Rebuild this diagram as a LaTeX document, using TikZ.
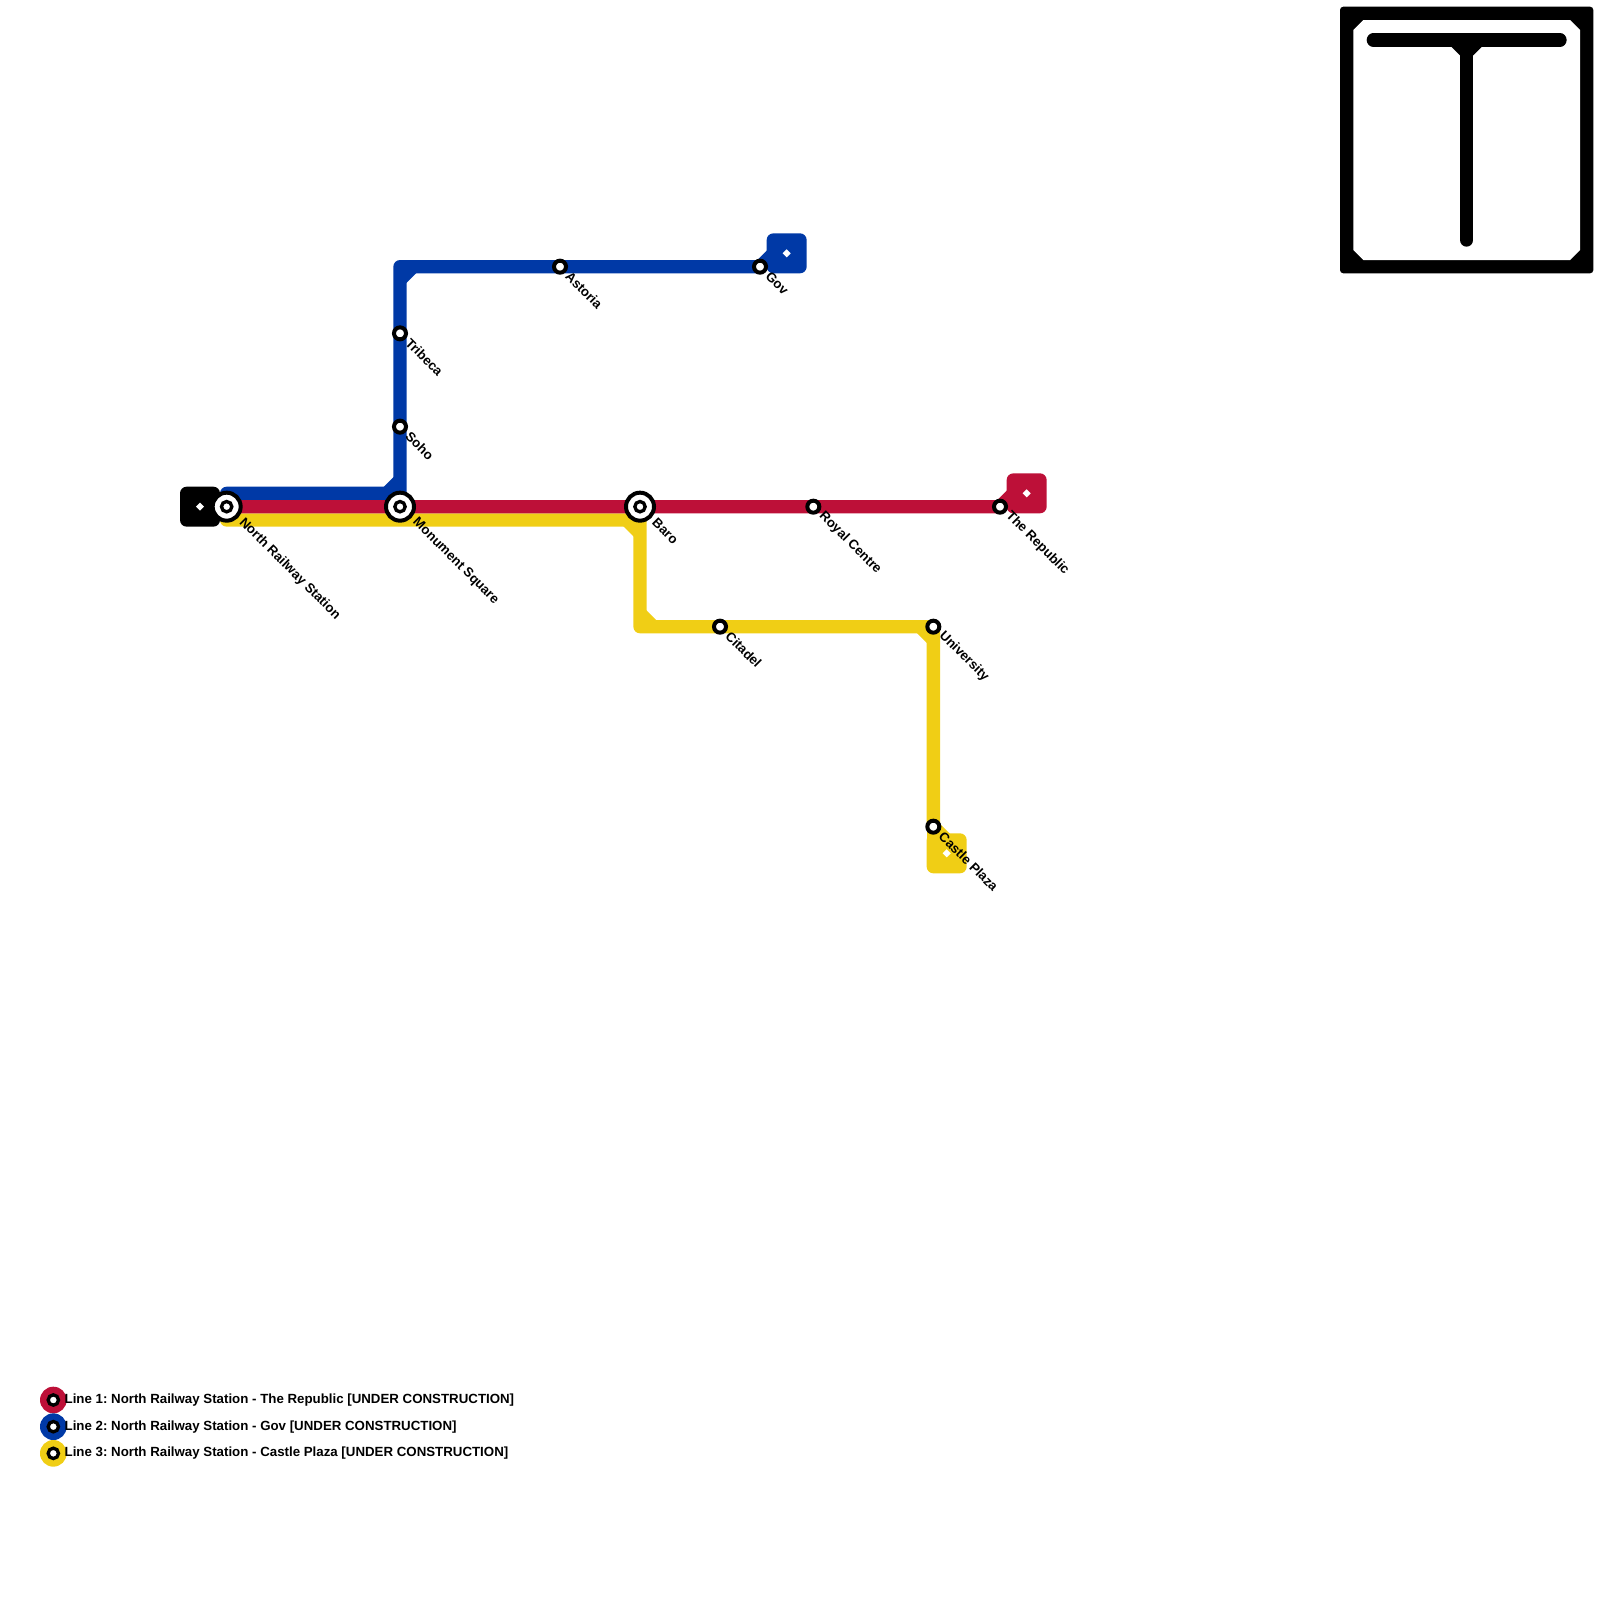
\documentclass[tikz,border=0pt]{standalone}
\usepackage{fontspec}
\setmainfont{Liberation Sans}
\usetikzlibrary{shapes.geometric,backgrounds}
\definecolor{lred}{HTML}{BD1038}
\definecolor{lblue}{HTML}{0039A6}
\definecolor{lyellow}{HTML}{F0CE15}
\tikzset{
  x=.4cm,y=-.4cm,
  route/.style={line width=.4cm,line cap=round,line join=round},
  chamfer/.style={line width=.4cm,line cap=butt},
  termbox/.style={rectangle,rounded corners=.2cm,minimum size=1.2cm,inner sep=0,outer sep=0},
  gem/.style={diamond,fill=white,minimum size=.25cm,inner sep=0},
  smallst/.style={circle,fill=white,draw=black,line width=.12cm,minimum size=.36cm,inner sep=0,outer sep=0},
  bigst/.style={circle,fill=white,draw=black,line width=.12cm,minimum size=.84cm,inner sep=0,outer sep=0,
    path picture={\draw[black,line width=.1cm] (path picture bounding box.center) circle (.155cm);}},
  legdot/.style={circle,minimum size=.8cm,inner sep=0,outer sep=0,
    path picture={\draw[black,fill=white,line width=.1cm] (path picture bounding box.center) circle (.155cm);}},
  lab/.style={rotate=-45,anchor=west,inner sep=0,outer sep=0,font=\frenchspacing\bfseries\fontsize{11.3pt}{13pt}\selectfont},
  legtext/.style={anchor=base west,inner sep=0,outer sep=0,font=\frenchspacing\bfseries\fontsize{11.34pt}{13pt}\selectfont},
}
\begin{document}
\begin{tikzpicture}
\useasboundingbox (0,0) rectangle (120,120);
% stations
\node[bigst] (nrs) at (17,38) {};
\node[bigst] (mon) at (30,38) {};
\node[bigst] (bar) at (48,38) {};
\node[smallst] (roy) at (61,38) {};
\node[smallst] (rep) at (75,38) {};
\node[smallst] (tri) at (30,25) {};
\node[smallst] (soh) at (30,32) {};
\node[smallst] (ast) at (42,20) {};
\node[smallst] (gov) at (57,20) {};
\node[smallst] (cit) at (54,47) {};
\node[smallst] (uni) at (70,47) {};
\node[smallst] (cas) at (70,62) {};
% waypoints
\coordinate (b0) at (17,37);
\coordinate (b1) at (30,37);
\coordinate (b2) at (30,20);
\coordinate (b1a) at (29,37);
\coordinate (b1b) at (30,36);
\coordinate (b2a) at (30,21);
\coordinate (b2b) at (31,20);
\coordinate (b3) at (58,19);
\coordinate (r1) at (76,37);
\coordinate (y0) at (17,39);
\coordinate (y1) at (48,39);
\coordinate (y2) at (48,47);
\coordinate (y1a) at (47,39);
\coordinate (y1b) at (48,40);
\coordinate (y2a) at (48,46);
\coordinate (y2b) at (49,47);
\coordinate (y3a) at (69,47);
\coordinate (y3b) at (70,48);
\coordinate (y4) at (71,63);
% terminals
\begin{scope}[on background layer]
\node[termbox,fill=black] (tblack) at (15,38) {};
\node[termbox,fill=lred] (tred) at (77,37) {};
\node[termbox,fill=lblue] (tblue) at (59,19) {};
\node[termbox,fill=lyellow] (tyellow) at (71,64) {};
% lines
\draw[route,lblue] (b0) -- (b1) -- (b2) -- (ast.center) -- (gov.center) -- (b3) -- (tblue.center);
\draw[chamfer,lblue] (b1a) -- (b1b);
\draw[chamfer,lblue] (b2a) -- (b2b);
\draw[route,lyellow] (y0) -- (y1) -- (y2) -- (cit.center) -- (uni.center) -- (cas.center) -- (y4) -- (tyellow.center);
\draw[route,lyellow] (cas.center) -- (70,64) -- (tyellow.center);
\draw[chamfer,lyellow] (y1a) -- (y1b);
\draw[chamfer,lyellow] (y2a) -- (y2b);
\draw[chamfer,lyellow] (y3a) -- (y3b);
\draw[route,lred] (nrs.center) -- (mon.center) -- (bar.center) -- (roy.center) -- (rep.center) -- (r1) -- (tred.center);
\end{scope}
\node[gem] (g1) at (tblack.center) {};
\node[gem] (g2) at (tred.center) {};
\node[gem] (g3) at (tblue.center) {};
\node[gem] (g4) at (tyellow.center) {};
% labels
\node[lab] (lnrs) at (18.1,39.05) {North Railway Station};
\node[lab] (lmon) at (31.1,39.05) {Monument Square};
\node[lab] (lbar) at (49.1,39.05) {Baro};
\node[lab] (lroy) at (61.6,38.55) {Royal Centre};
\node[lab] (lrep) at (75.6,38.55) {The Republic};
\node[lab] (ltri) at (30.6,25.55) {Tribeca};
\node[lab] (lsoh) at (30.6,32.55) {Soho};
\node[lab] (last) at (42.6,20.55) {Astoria};
\node[lab] (lgov) at (57.6,20.55) {Gov};
\node[lab] (lcit) at (54.6,47.55) {Citadel};
\node[lab] (luni) at (70.6,47.55) {University};
\node[lab] (lcas) at (70.6,62.55) {Castle Plaza};
% legend
\node[legdot,fill=lred] (k1) at (4,105) {};
\node[legdot,fill=lblue] (k2) at (4,107) {};
\node[legdot,fill=lyellow] (k3) at (4,109) {};
\node[legtext] (t1) at (4.85,105.25) {Line 1: North Railway Station - The Republic [UNDER CONSTRUCTION]};
\node[legtext] (t2) at (4.85,107.25) {Line 2: North Railway Station - Gov [UNDER CONSTRUCTION]};
\node[legtext] (t3) at (4.85,109.25) {Line 3: North Railway Station - Castle Plaza [UNDER CONSTRUCTION]};
% logo
\fill[black,rounded corners=.1cm] (100.5,.5) rectangle (119.5,20.5);
\fill[white] (102.25,1.5) -- (117.75,1.5) -- (118.5,2.25) -- (118.5,18.75) -- (117.75,19.5) -- (102.25,19.5) -- (101.5,18.75) -- (101.5,2.25) -- cycle;
\draw[route,black] (103,3) -- (117,3);
\draw[route,black] (110,3) -- (110,18);
\fill[black] (108.85,3.5) -- (109.5,4.15) -- (110.5,4.15) -- (111.15,3.5) -- cycle;
\end{tikzpicture}
\end{document}
